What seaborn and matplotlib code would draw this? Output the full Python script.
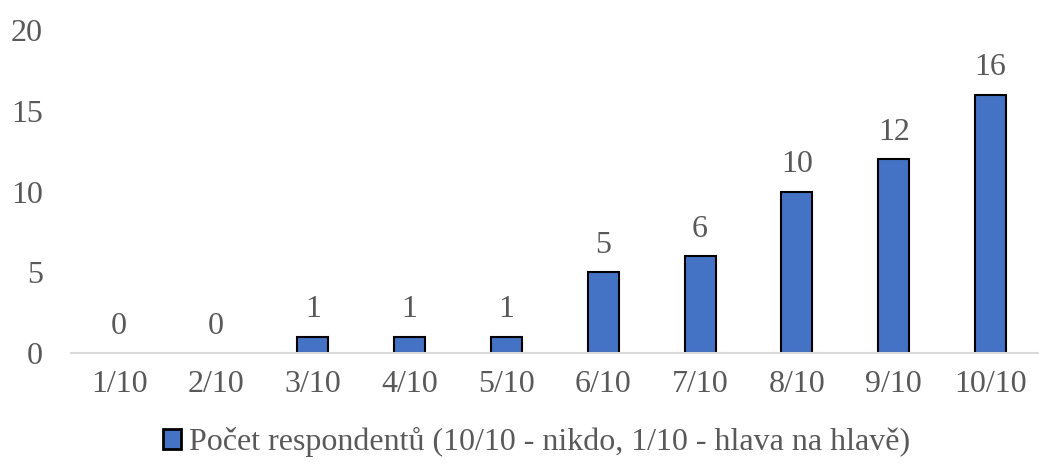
import pandas as pd
import matplotlib.pyplot as plt
import seaborn as sns

categories = ['1/10', '2/10', '3/10', '4/10', '5/10', '6/10', '7/10', '8/10', '9/10', '10/10']
counts = [0, 0, 1, 1, 1, 5, 6, 10, 12, 16]
series_name = 'Počet respondentů (10/10 - nikdo, 1/10 - hlava na hlavě)'

df = pd.DataFrame({'kat': categories, 'pocet': counts, 'serie': series_name})

sns.set_style('white')
plt.rcParams['font.family'] = ['Liberation Serif', 'DejaVu Serif']
text_col = '#595959'
fs = 23

fig = plt.figure(figsize=(10.39, 4.69), dpi=100)
ax = fig.add_axes([0.068, 0.247, 0.932, 0.689])

sns.barplot(data=df, x='kat', y='pocet', hue='serie', palette=['#4472C4'], saturation=1,
            width=0.32, edgecolor='black', linewidth=1.5, ax=ax)

for c in ax.containers:
    ax.bar_label(c, labels=[str(v) for v in counts], padding=9, fontsize=fs, color=text_col)

ax.set_ylim(0, 20)
ax.set_xlim(-0.5, 9.5)
ax.set_yticks([0, 5, 10, 15, 20])
ax.set_xlabel('')
ax.set_ylabel('')
ax.tick_params(axis='both', labelsize=fs, colors=text_col, length=0)
ax.tick_params(axis='x', pad=12)
ax.tick_params(axis='y', pad=20)
for s in ['top', 'right', 'left']:
    ax.spines[s].set_visible(False)
ax.spines['bottom'].set_color('#D9D9D9')
ax.spines['bottom'].set_linewidth(1.5)

leg = ax.legend(loc='upper center', bbox_to_anchor=(0.481, -0.19), frameon=False,
                fontsize=fs, labelcolor=text_col, handlelength=0.55, handleheight=0.55,
                handletextpad=0.25, borderaxespad=0)
for h in leg.legend_handles:
    h.set_edgecolor('black')
    h.set_linewidth(2)

# empty bars: no outline
for p in ax.patches:
    if p.get_height() == 0:
        p.set_linewidth(0)

fig.savefig('out.png', dpi=100)
